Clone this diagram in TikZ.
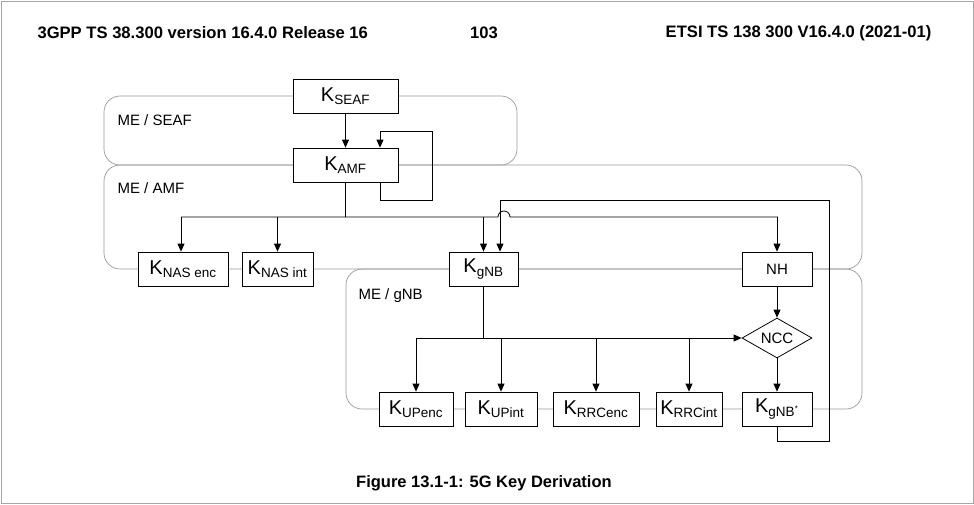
\documentclass[tikz,border=0pt]{standalone}
\usepackage{fontspec}
\setmainfont{Liberation Sans}
\usetikzlibrary{shapes.geometric,arrows.meta}
\begin{document}
\begin{tikzpicture}[x=1pt,y=-1pt,
  box/.style={draw,fill=white,line width=0.8pt,minimum height=34pt,inner sep=0pt,font=\fontsize{20}{22}\selectfont},
  grp/.style={draw=gray!80,line width=0.7pt,rounded corners=16pt},
  glab/.style={anchor=west,font=\fontsize{15}{17}\selectfont},
  arr/.style={-{Triangle[length=8pt,width=7pt]},line width=0.8pt},
  ln/.style={line width=0.8pt}]
\useasboundingbox (0,0) rectangle (974,504);
\draw[gray!70,line width=0.6pt] (1,1) rectangle (973,503);
% header
\node[font=\bfseries\fontsize{16.6}{18}\selectfont,anchor=west] (h1) at (34,33) {3GPP TS 38.300 version 16.4.0 Release 16};
\node[font=\bfseries\fontsize{16.6}{18}\selectfont] (h2) at (484,33) {103};
\node[font=\bfseries\fontsize{16.6}{18}\selectfont,anchor=east] (h3) at (935,33) {ETSI TS 138 300 V16.4.0 (2021-01)};
\node[font=\bfseries\fontsize{16.5}{18}\selectfont] (cap) at (484,483) {Figure 13.1-1: 5G Key Derivation};
% groups
\draw[grp] (104,96) rectangle (517,165);
\draw[grp] (104,165) rectangle (862,269);
\draw[grp] (346,269) rectangle (862,409);
\node[glab] (g1) at (114,120) {ME / SEAF};
\node[glab] (g2) at (114,188) {ME / AMF};
\node[glab] (g3) at (355,296) {ME / gNB};
% nodes
\newcommand{\kk}[1]{K\textsubscript{\fontsize{13.5}{14}\selectfont #1}}
\node[box,minimum width=105pt] (seaf) at (345.5,96) {\kk{SEAF}};
\node[box,minimum width=105pt] (amf) at (345.5,165) {\kk{AMF}};
\node[box,minimum width=90pt] (nenc) at (183,269) {\kk{NAS enc}};
\node[box,minimum width=71pt] (nint) at (277.5,269) {\kk{NAS int}};
\node[box,minimum width=69pt] (gnb) at (483.5,269) {\kk{gNB}};
\node[box,minimum width=70pt,font=\fontsize{15}{17}\selectfont] (nh) at (777,269) {NH};
\node[draw,fill=white,diamond,aspect=1.75,minimum width=70pt,minimum height=40pt,inner sep=0pt,line width=0.8pt,font=\fontsize{15}{17}\selectfont] (ncc) at (777,338) {NCC};
\node[box,minimum width=70pt] (gnbs) at (777,409) {K\textsubscript{\fontsize{13.5}{14}\selectfont gNB\textsuperscript{\fontsize{8}{9}\selectfont *}}};
\node[box,minimum width=74pt] (upenc) at (416,409) {\kk{UPenc}};
\node[box,minimum width=72pt] (upint) at (501,409) {\kk{UPint}};
\node[box,minimum width=86pt] (rrcenc) at (596,409) {\kk{RRCenc}};
\node[box,minimum width=66pt] (rrcint) at (689,409) {\kk{RRCint}};
\coordinate (bus) at (345.5,217);
\coordinate (gbus) at (483.5,338);
% arrows
\draw[arr] (seaf) -- (amf);
\draw[arr] (amf.south -| 380,0) |- (432,200) |- (380,131) -- (amf.north -| 380,0);
\draw[ln] (amf) -- (bus);
\draw[ln] (181,217) -- (498,217) arc(180:360:6) -- (778,217);
\draw[arr] (181,217) -- (nenc.north -| 181,0);
\draw[arr] (277.5,217) -- (nint);
\draw[arr] (483.5,217) -- (gnb);
\draw[arr] (777,217) -- (nh);
\draw[arr] (gnbs.south) -- (777,441) -| (829,200) -| (gnb.north -| 500,0);
\draw[arr] (nh) -- (ncc);
\draw[arr] (ncc) -- (gnbs);
\draw[ln] (gnb) -- (gbus);
\draw[arr] (416,338) -- (ncc.west);
\draw[arr] (416,338) -- (upenc);
\draw[arr] (501,338) -- (upint);
\draw[arr] (596,338) -- (rrcenc);
\draw[arr] (689,338) -- (rrcint);
\end{tikzpicture}
\end{document}
